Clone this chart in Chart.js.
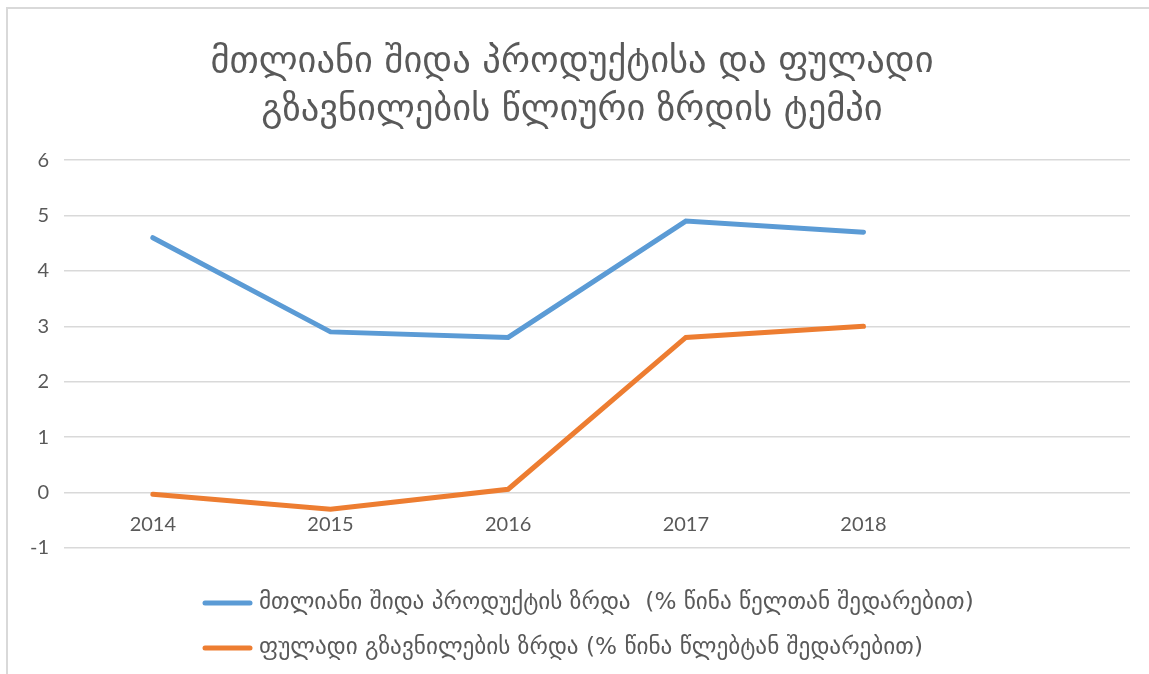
<!DOCTYPE html>
<html>
<head>
<meta charset="utf-8">
<script src="https://cdn.jsdelivr.net/npm/chart.js@4.4.1/dist/chart.umd.min.js"></script>
<style>
  html, body { margin: 0; padding: 0; background: #fff; }
  #wrap { position: relative; width: 1149px; height: 674px; }
  #frame { position: absolute; left: 6px; top: 7px; right: 0; bottom: 0;
           border-left: 2px solid #d9d9d9; border-top: 2px solid #d9d9d9; pointer-events: none; }
</style>
</head>
<body>
<div id="wrap">
  <canvas id="chart" width="1149" height="674"></canvas>
  <div id="frame"></div>
</div>
<script>
// dados
var years = ["2014", "2015", "2016", "2017", "2018", ""];
var gdpGrowth = [4.6, 2.9, 2.8, 4.9, 4.7];
var remitGrowth = [-0.03, -0.3, 0.06, 2.8, 3.0];
var titleLines = ["მთლიანი შიდა პროდუქტისა და ფულადი", "გზავნილების წლიური ზრდის ტემპი"];
var gdpLabel = "მთლიანი შიდა პროდუქტის ზრდა  (% წინა წელთან შედარებით)";
var remitLabel = "ფულადი გზავნილების ზრდა (% წინა წლებტან შედარებით)";

var geoFont = "'DejaVu Sans', 'Noto Sans', sans-serif";
var grey = "#595959";

// legenda desenhada a mão (linhas alinhadas à esquerda)
var legendPlugin = {
    id: "leftLegend",
    afterDraw(chart) {
        var ctx = chart.ctx;
        var rows = [603, 648];
        ctx.save();
        chart.data.datasets.forEach((ds, i) => {
            var y = rows[i];
            ctx.strokeStyle = ds.borderColor;
            ctx.lineWidth = 5;
            ctx.lineCap = "round";
            ctx.beginPath();
            ctx.moveTo(205, y);
            ctx.lineTo(250, y);
            ctx.stroke();
            ctx.fillStyle = grey;
            ctx.font = "23.2px " + geoFont;
            ctx.textBaseline = "middle";
            ctx.textAlign = "left";
            ctx.fillText(ds.label, 259, y);
        })
        ctx.restore();
    }
};

var ctx = document.getElementById("chart");

var chartGraph = new Chart(ctx, {
    type: "line",
    data: {
        labels: years,
        datasets: [{
            label: gdpLabel,
            data: gdpGrowth,
            borderColor: "#5b9bd5",
            backgroundColor: "#5b9bd5",
            borderWidth: 5,
            borderCapStyle: "round",
            pointRadius: 0,
            tension: 0
        }, {
            label: remitLabel,
            data: remitGrowth,
            borderColor: "#ed7d31",
            backgroundColor: "#ed7d31",
            borderWidth: 5,
            borderCapStyle: "round",
            pointRadius: 0,
            tension: 0
        }]
    },
    options: {
        responsive: false,
        animation: false,
        layout: { padding: { left: 14, right: 19, top: 10, bottom: 126 } },
        plugins: {
            legend: { display: false },
            tooltip: { enabled: false },
            title: {
                display: true,
                text: titleLines,
                color: grey,
                font: { family: geoFont, size: 36.5, weight: "normal", lineHeight: 1.33 },
                padding: { top: 28, bottom: 25 }
            }
        },
        scales: {
            x: {
                position: { y: 0 },
                offset: true,
                grid: { display: false, drawTicks: false },
                border: { display: false },
                ticks: { color: grey, font: { family: "Lato, sans-serif", size: 20 }, padding: 20, maxRotation: 0 }
            },
            y: {
                min: -1,
                max: 6,
                grid: { color: "#d9d9d9", lineWidth: 1.5, drawTicks: false },
                border: { display: false },
                ticks: { stepSize: 1, color: grey, font: { family: "Lato, sans-serif", size: 20 }, padding: 15 },
                afterFit(scale) { scale.width = 50; }
            }
        }
    },
    plugins: [legendPlugin]
});
</script>
</body>
</html>
